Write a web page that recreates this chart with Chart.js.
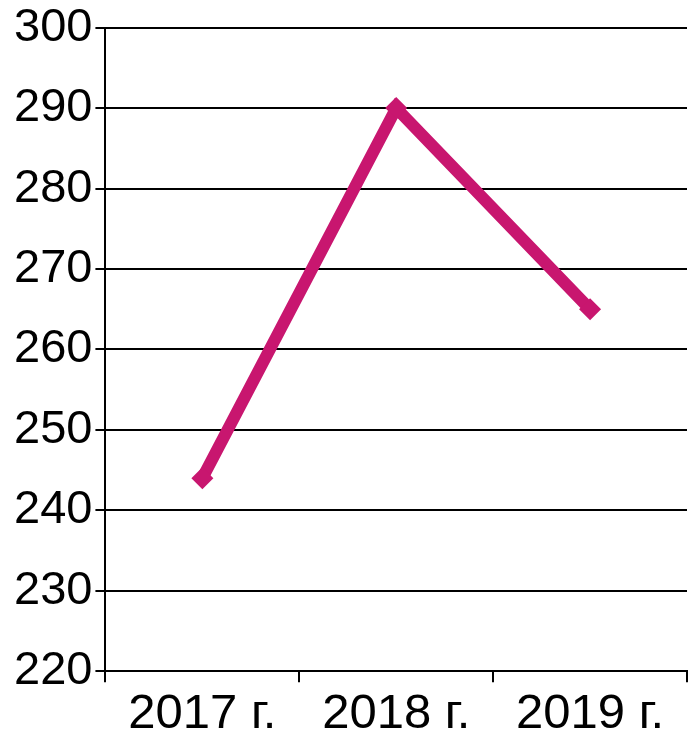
<!DOCTYPE html>
<html>
<head>
<meta charset="utf-8">
<script src="https://cdn.jsdelivr.net/npm/chart.js@4"></script>
<style>
  html, body { margin: 0; padding: 0; background: #fff; overflow: hidden; }
  #wrap { position: relative; width: 688px; height: 735px; overflow: hidden; }
</style>
</head>
<body>
<div id="wrap"><canvas id="chart"></canvas></div>
<script>
const years = ['2017 г.', '2018 г.', '2019 г.'];
const values = [244, 290, 265];
const yMin = 220;
const yMax = 300;
const yStep = 10;

const lineColor = '#c8166f';

const ctx = document.getElementById('chart').getContext('2d');
const chart = new Chart(ctx, {
  type: 'line',
  data: {
    labels: years,
    datasets: [{
      data: values,
      borderColor: lineColor,
      backgroundColor: lineColor,
      borderWidth: 12,
      pointStyle: 'rectRot',
      pointRadius: 11,
      pointBorderWidth: 0,
      tension: 0,
      fill: false,
      clip: false
    }]
  },
  options: {
    responsive: true,
    maintainAspectRatio: false,
    animation: false,
    devicePixelRatio: 1,
    // negative bottom padding: lets the x labels sit lower, like the reference
    layout: { autoPadding: false, padding: { left: 11, right: 1, top: 1, bottom: -11 } },
    plugins: { legend: { display: false }, tooltip: { enabled: false } },
    scales: {
      x: {
        offset: true,
        grid: {
          offset: true,
          drawOnChartArea: false,
          drawTicks: true,
          tickLength: 11,
          color: '#000',
          lineWidth: 2
        },
        border: { color: '#000', width: 2 },
        ticks: {
          color: '#000',
          padding: 15,
          font: { family: 'Liberation Sans', size: 49, lineHeight: 0.69 }
        }
      },
      y: {
        min: yMin,
        max: yMax,
        grid: {
          color: '#000',
          lineWidth: 2,
          drawTicks: true,
          tickLength: 10
        },
        border: { color: '#000', width: 2 },
        ticks: {
          stepSize: yStep,
          color: '#000',
          padding: 3,
          font: { family: 'Liberation Sans', size: 47, lineHeight: 1.05 }
        }
      }
    }
  }
});
</script>
</body>
</html>
